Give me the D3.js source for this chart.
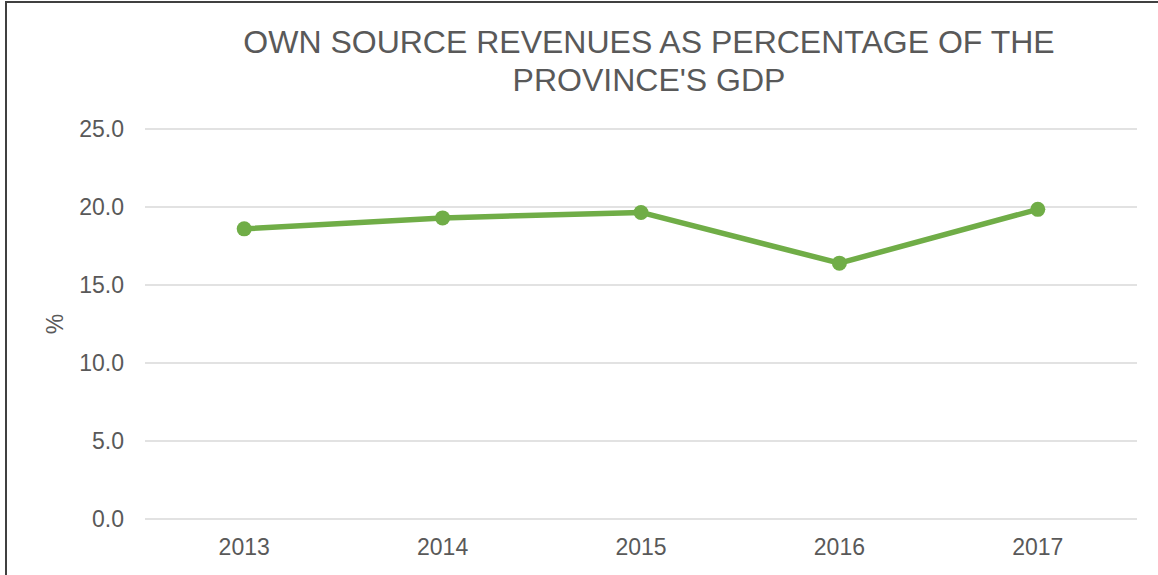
<!DOCTYPE html>
<html>
<head>
<meta charset="utf-8">
<script src="https://cdn.jsdelivr.net/npm/d3@7"></script>
<style>
  body { margin: 0; background: #fff; }
  svg { display: block; font-family: "Liberation Sans", Arial, sans-serif; }
</style>
</head>
<body>
<div id="chart-container"></div>
<script>
// Data
const years = ["2013", "2014", "2015", "2016", "2017"];
const values = [18.6, 19.3, 19.65, 16.4, 19.85];
const yTicks = [0, 5, 10, 15, 20, 25];
const titleLines = ["OWN SOURCE REVENUES AS PERCENTAGE OF THE", "PROVINCE'S GDP"];

const W = 1158, H = 575;
const margin = { top: 129, right: 21, bottom: 56, left: 145 };
const width = W - margin.left - margin.right;
const height = H - margin.top - margin.bottom;

const svg = d3.select("#chart-container")
  .append("svg")
  .attr("width", W)
  .attr("height", H);

// chart frame (left and top edges visible)
svg.append("path")
  .attr("d", `M6,${H} L6,2 L${W},2`)
  .attr("fill", "none")
  .attr("stroke", "#404040")
  .attr("stroke-width", 2);

const g = svg.append("g")
  .attr("transform", `translate(${margin.left},${margin.top})`);

const xScale = d3.scaleBand()
  .domain(years)
  .range([0, width]);

const yScale = d3.scaleLinear()
  .domain([0, 25])
  .range([height, 0]);

// horizontal gridlines
g.selectAll(".grid")
  .data(yTicks)
  .join("line")
  .attr("class", "grid")
  .attr("x1", 0)
  .attr("x2", width)
  .attr("y1", d => yScale(d))
  .attr("y2", d => yScale(d))
  .attr("stroke", "#d9d9d9")
  .attr("stroke-width", 1.5);

// y axis
g.append("g")
  .call(d3.axisLeft(yScale)
    .tickValues(yTicks)
    .tickFormat(d3.format(".1f"))
    .tickSize(0)
    .tickPadding(21))
  .call(ax => ax.select(".domain").remove())
  .selectAll("text")
  .attr("fill", "#595959")
  .style("font-size", "23px")
  .style("font-family", "Liberation Sans, Arial, sans-serif");

// x axis
g.append("g")
  .attr("transform", `translate(0,${height})`)
  .call(d3.axisBottom(xScale).tickSize(0).tickPadding(20))
  .call(ax => ax.select(".domain").remove())
  .selectAll("text")
  .attr("fill", "#595959")
  .style("font-size", "23px")
  .style("font-family", "Liberation Sans, Arial, sans-serif");

// y label
svg.append("text")
  .attr("transform", `translate(63,${margin.top + height / 2}) rotate(-90)`)
  .attr("text-anchor", "middle")
  .attr("fill", "#595959")
  .style("font-size", "23px")
  .text("%");

// line
const line = d3.line()
  .x((d, i) => xScale(years[i]) + xScale.bandwidth() / 2)
  .y(d => yScale(d));

g.append("path")
  .datum(values)
  .attr("fill", "none")
  .attr("stroke", "#70ad47")
  .attr("stroke-width", 5.5)
  .attr("stroke-linejoin", "round")
  .attr("d", line);

g.selectAll(".dot")
  .data(values)
  .join("circle")
  .attr("class", "dot")
  .attr("cx", (d, i) => xScale(years[i]) + xScale.bandwidth() / 2)
  .attr("cy", d => yScale(d))
  .attr("r", 7.5)
  .attr("fill", "#70ad47");

// title
svg.append("text")
  .attr("text-anchor", "middle")
  .attr("fill", "#595959")
  .style("font-size", "32px")
  .selectAll("tspan")
  .data(titleLines)
  .join("tspan")
  .attr("x", 649)
  .attr("y", (d, i) => 53 + i * 38)
  .text(d => d);
</script>
</body>
</html>
